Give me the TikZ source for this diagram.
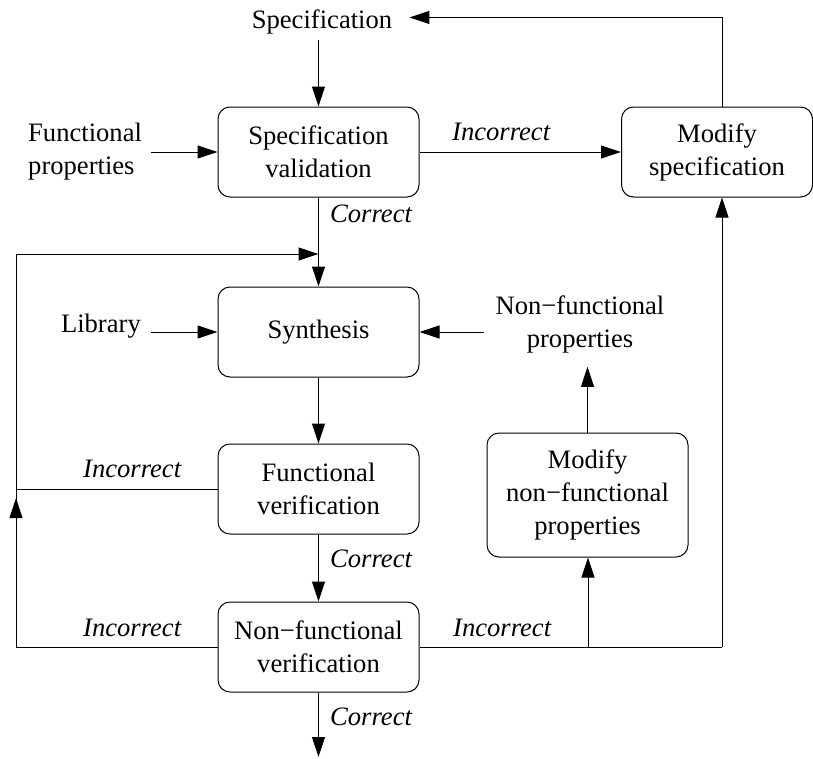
\documentclass[tikz,border=0pt]{standalone}
\usepackage{fontspec}
\setmainfont{Liberation Serif}
\usetikzlibrary{arrows.meta,calc}
\begin{document}
\begin{tikzpicture}[x=1pt,y=-1pt,
  txt/.style={font=\fontsize{26.6}{33}\selectfont, inner sep=0pt, align=center},
  box/.style={txt, draw, rounded corners=12pt, minimum width=201pt, minimum height=90pt, line width=1pt},
  lbl/.style={font=\fontsize{26.6}{33}\selectfont\itshape, inner sep=0pt, anchor=base west},
  conn/.style={line width=1pt},
  arr/.style={conn, -{Triangle[length=20pt,width=13pt]}}]
\useasboundingbox (0,0) rectangle (813,758);

% nodes
\node[txt, anchor=base] (spec) at (322,28) {Specification};
\node[box] (val) at (318.5,152) {Specification\\validation};
\node[box, minimum width=191pt] (mod) at (717,152) {Modify\\specification};
\node[txt, align=left, anchor=west] (fp) at (28,152) {Functional\\properties};
\node[box] (syn) at (318.5,332) {Synthesis};
\node[txt, anchor=base east] (lib) at (141,332) {Library};
\node[txt] (nfp) at (580,324) {Non−functional\\properties};
\node[box, minimum height=124pt] (mnf) at (587.5,495) {Modify\\non−functional\\properties};
\node[box] (fv) at (318.5,489) {Functional\\verification};
\node[box] (nfv) at (318.5,647) {Non−functional\\verification};

% labels
\node[lbl] (c1) at (330,222) {Correct};
\node[lbl] (c2) at (330,567) {Correct};
\node[lbl] (c3) at (330,725) {Correct};
\node[lbl] (i1) at (452,140) {Incorrect};
\node[lbl] (i2) at (83,477) {Incorrect};
\node[lbl] (i3) at (83,636) {Incorrect};
\node[lbl] (i4) at (453,636) {Incorrect};

% coordinates
\coordinate (topR) at (722,18);
\coordinate (j1) at (318.5,254);
\coordinate (L1) at (16,254);
\coordinate (L2) at (16,489);
\coordinate (L3) at (16,647);
\coordinate (Lar) at (16,498);
\coordinate (R1) at (588,647);
\coordinate (R2) at (722,647);
\coordinate (fin) at (318.5,757);

% connectors
\draw[arr] ($(spec.south -| val.north)+(0,6)$) -- (val.north);
\draw[arr] ($(fp.east |- val.west)+(9,0)$) -- (val.west);
\draw[arr] (val.east) -- (mod.west);
\draw[arr] (mod.north -| topR) |- ($(spec.east)+(17,-4)$);
\draw[arr] (val.south) -- (syn.north);
\draw[arr] ($(lib.east |- syn.west)+(10,0)$) -- (syn.west);
\draw[arr] ($(nfp.west |- syn.east)+(-11,0)$) -- (syn.east);
\draw[arr] (syn.south) -- (fv.north);
\draw[arr] (fv.south) -- (nfv.north);
\draw[arr] (nfv.south) -- (fin);
\draw[arr] (fv.west) -- (L2) -- (L1) -- (j1);
\draw[conn] (nfv.west) -- (L3) -- (L2);
\draw[arr] (L3) -- (Lar);
\draw[conn] (nfv.east) -- (R2);
\draw[arr] (R2) -- (mod.south -| R2);
\draw[arr] (R1) -- (R1 |- mnf.south);
\draw[arr] (mnf.north) -- ($(nfp.south -| mnf.north)+(0,14)$);
\end{tikzpicture}
\end{document}
